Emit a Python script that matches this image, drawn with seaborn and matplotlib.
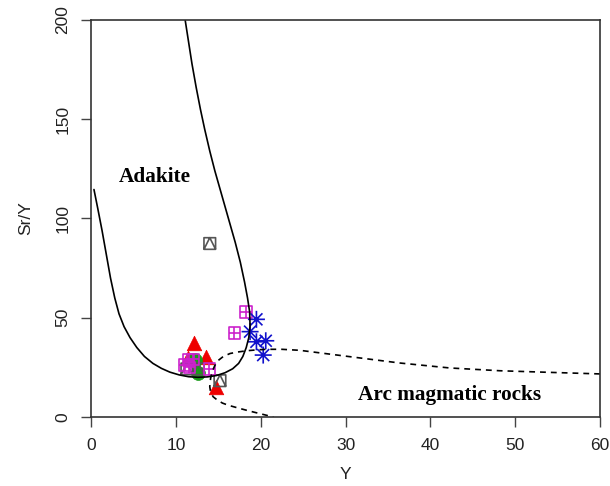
import numpy as np
import pandas as pd
import matplotlib
matplotlib.use("Agg")
import matplotlib.pyplot as plt
from matplotlib.path import Path
import seaborn as sns

# ---------------- data ----------------
# gray: square with triangle
gray_y = [14.0, 11.3, 12.65, 15.2]
gray_sr = [87.4, 24.2, 24.2, 18.3]
# magenta: square with plus
mag_y = [18.3, 16.9, 13.95, 11.5, 11.1, 12.0, 11.6]
mag_sr = [53.0, 42.2, 24.2, 28.7, 26.2, 29.0, 25.0]
# blue asterisks
blue_y = [19.5, 18.75, 19.5, 20.6, 20.3]
blue_sr = [49.2, 43.0, 37.9, 38.4, 31.2]
# red triangles
red_y = [12.2, 13.5, 11.4, 14.7]
red_sr = [37.1, 30.4, 29.6, 15.3]
# green circles
green_y = [12.3, 12.6]
green_sr = [28.7, 22.3]

# Adakite boundary (solid)
ada_y = [0.35, 0.8, 1.3, 1.8, 2.3, 2.8, 3.3, 3.9, 4.6, 5.4, 6.3, 7.3, 8.3,
         9.3, 10.4, 11.5, 12.6, 13.7, 14.8, 15.8, 16.7, 17.4, 17.9, 18.3,
         18.6, 18.75, 18.7, 18.45, 18.1, 17.6, 17.0, 16.4, 15.8, 15.2, 14.6,
         14.0, 13.4, 12.9, 12.4, 11.9, 11.5, 11.1]
ada_sr = [114.6, 105, 94, 82, 70, 60, 52, 45.5, 40, 35, 30.5, 27, 24.5,
          22.6, 21.2, 20.3, 20.0, 20.2, 20.9, 22.3, 24.3, 27, 30.5, 35,
          40, 46, 53, 60, 68, 78, 88, 97, 106, 115, 124,
          134, 145, 155, 166, 178, 189, 200]
# Arc magmatic rocks boundary (dashed)
arc_y = [60.0, 54.0, 48.2, 42.3, 36.4, 30.5, 24.6, 22.5, 20.7, 19.5, 18.4,
         17.4, 16.4, 15.6, 15.0, 14.6, 14.3, 14.1, 14.0, 14.1, 14.4, 14.9,
         15.5, 16.2, 17.2, 18.5, 20.0, 21.5]
arc_sr = [21.7, 22.5, 23.3, 24.7, 27.2, 30.4, 33.6, 34.1, 34.1, 33.8, 33.4,
          32.8, 32.0, 30.5, 28.5, 26.0, 23.0, 19.5, 15.3, 12.5, 10.2, 8.5,
          7.0, 5.9, 4.7, 3.2, 1.6, 0.0]

x_ticks = [0, 10, 20, 30, 40, 50, 60]
y_ticks = [0, 50, 100, 150, 200]

# ---------------- custom markers ----------------
def sq_plus():
    v = [(-1, -1), (1, -1), (1, 1), (-1, 1), (-1, -1),
         (0, -1), (0, 1), (-1, 0), (1, 0)]
    c = [Path.MOVETO, Path.LINETO, Path.LINETO, Path.LINETO, Path.CLOSEPOLY,
         Path.MOVETO, Path.LINETO, Path.MOVETO, Path.LINETO]
    return Path(v, c)

def sq_tri():
    v = [(-1, -1), (1, -1), (1, 1), (-1, 1), (-1, -1),
         (-1, -1), (0, 1), (1, -1)]
    c = [Path.MOVETO, Path.LINETO, Path.LINETO, Path.LINETO, Path.CLOSEPOLY,
         Path.MOVETO, Path.LINETO, Path.LINETO]
    return Path(v, c)

def asterisk():
    d = 0.7071
    v = [(-1, 0), (1, 0), (0, -1), (0, 1), (-d, -d), (d, d), (-d, d), (d, -d)]
    c = [Path.MOVETO, Path.LINETO] * 4
    return Path(v, c)

# ---------------- figure ----------------
sns.set_theme(style="white")
plt.rcParams['font.family'] = ['Liberation Sans', 'DejaVu Sans']

fig = plt.figure(figsize=(6.10, 4.86), dpi=100)
ax = fig.add_axes([91 / 610, 1 - 417 / 486, (600 - 91) / 610, (417 - 20) / 486])

sns.lineplot(x=ada_y, y=ada_sr, sort=False, estimator=None, ax=ax,
             color="black", linewidth=1.2)
sns.lineplot(x=arc_y, y=arc_sr, sort=False, estimator=None, ax=ax,
             color="black", linewidth=1.2, linestyle=(0, (3.5, 3)))

sns.scatterplot(x=red_y, y=red_sr, marker="^", s=110, ax=ax,
                color="#ee0000", edgecolor="#ee0000", linewidth=0.5)
sns.scatterplot(x=green_y, y=green_sr, marker="o", s=100, ax=ax,
                color="#1a9a1a", edgecolor="#1a9a1a", linewidth=0.5)
sns.scatterplot(x=gray_y, y=gray_sr, marker=sq_tri(), s=70, ax=ax,
                facecolor="none", edgecolor="#555555", linewidth=1.2)
sns.scatterplot(x=mag_y, y=mag_sr, marker=sq_plus(), s=70, ax=ax,
                facecolor="none", edgecolor="#cc22cc", linewidth=1.2)
sns.scatterplot(x=blue_y, y=blue_sr, marker=asterisk(), s=150, ax=ax,
                facecolor="none", edgecolor="#1111cc", linewidth=1.2)

ax.text(7.5, 121, "Adakite", family="Liberation Serif", fontweight="bold",
        fontsize=15.3, ha="center", va="center", color="black")
ax.text(42.3, 11, "Arc magmatic rocks", family="Liberation Serif",
        fontweight="bold", fontsize=15.3, ha="center", va="center", color="black")

ax.set_xlim(0, 60)
ax.set_ylim(0, 200)
ax.set_xticks(x_ticks)
ax.set_yticks(y_ticks)
ax.set_xticklabels([str(t) for t in x_ticks], fontsize=12.5, color="#222222")
ax.set_yticklabels([str(t) for t in y_ticks], fontsize=12.5, color="#222222",
                   rotation=90, va="center")
ax.tick_params(axis="both", direction="out", length=7, width=1,
               color="#444444", pad=8, bottom=True, left=True)
for s in ax.spines.values():
    s.set_color("#333333")
    s.set_linewidth(1.2)
ax.set_xlabel("Y", fontsize=12.5, labelpad=10, color="#222222")
ax.set_ylabel("Sr/Y", fontsize=12.5, labelpad=16, color="#222222")

fig.savefig("out.png", dpi=100)
